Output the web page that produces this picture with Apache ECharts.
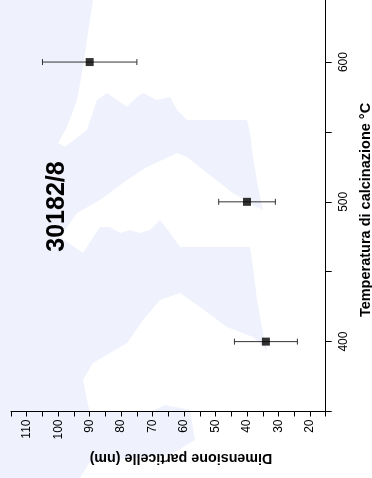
<!DOCTYPE html>
<html><head><meta charset="utf-8">
<script src="https://cdn.jsdelivr.net/npm/echarts@6/dist/echarts.min.js"></script>
<style>html,body{margin:0;padding:0;background:#fff}#c{width:372px;height:478px}</style>
</head><body><div id="c"></div>
<script>
// Data (chart is drawn rotated: size axis runs along the bottom, temperature up the right side)
const temperatures = [400, 500, 600];          // °C
const particleSizes = [34, 40, 90];            // nm
const sizeErrors = [10, 9, 15];                // ± nm
const sizeTickLabels = [110, 100, 90, 80, 70, 60, 50, 40, 30, 20];
const tempTickLabels = [400, 500, 600];
const sampleName = '30182/8';
const sizeTitle = 'Dimensione particelle (nm)';
const tempTitle = 'Temperatura di calcinazione °C';

const FONT = '"Liberation Sans", Arial, sans-serif';

// faint watermark silhouette in the background (decoration only)
const wmBlue = [
[0,0],[93,0],[88,33],[83,67],[77,100],[67,127],[58,143],[65,147],[87,130],[97,100],[107,93],[113,97],[127,107],[137,97],[143,93],[157,100],[170,97],[177,110],[187,120],[247,120],[250,133],[253,157],[258,187],[263,210],
[253,205],[233,193],[207,173],[187,157],[177,153],[147,167],[127,180],[100,200],[77,213],[60,237],
[83,253],[100,227],[110,227],[120,233],[130,230],[140,233],[150,230],[160,220],[170,233],[180,247],[250,247],[253,267],[257,300],[263,333],[267,350],
[253,337],[227,327],[200,307],[180,293],[160,300],[143,320],[127,343],[110,353],[93,363],[83,380],[88,405],[90,412],[150,412],[165,405],[190,410],[195,440],[170,455],[90,462],[80,478],[0,478]
];

const points = temperatures.map((t, i) => [particleSizes[i], t]);
const errData = temperatures.map((t, i) => [particleSizes[i] - sizeErrors[i], particleSizes[i] + sizeErrors[i], t]);

const chart = echarts.init(document.getElementById('c'), null, {renderer: 'canvas'});
chart.setOption({
  animation: false,
  backgroundColor: '#ffffff',
  textStyle: {fontFamily: FONT},
  grid: {left: 11, right: 46.3, top: 0, bottom: 66.5, containLabel: false},
  graphic: [
    {type: 'polygon', z: -10, silent: true, shape: {points: wmBlue}, style: {fill: '#eff1fc'}},
    {type: 'text', z: 10, x: 57, y: 206.5, rotation: Math.PI / 2,
      style: {text: sampleName, font: 'bold 25px ' + FONT, fill: '#000', align: 'center', verticalAlign: 'middle'}},
    {type: 'text', z: 10, x: 366, y: 210, rotation: Math.PI / 2,
      style: {text: tempTitle, font: 'bold 14.5px ' + FONT, fill: '#000', align: 'center', verticalAlign: 'middle'}},
    {type: 'text', z: 10, x: 181, y: 458, rotation: Math.PI,
      style: {text: sizeTitle, font: 'bold 14.3px ' + FONT, fill: '#000', align: 'center', verticalAlign: 'middle'}}
  ],
  xAxis: {
    type: 'value', inverse: true, position: 'bottom', min: 15, max: 115, interval: 5,
    splitLine: {show: false},
    axisLine: {show: true, lineStyle: {color: '#000', width: 1}},
    axisTick: {show: true, inside: false, length: 5, lineStyle: {color: '#000'}},
    axisLabel: {rotate: 90, margin: 8, fontSize: 12, color: '#000', fontFamily: FONT,
      formatter: v => sizeTickLabels.includes(v) ? String(v) : ''}
  },
  yAxis: {
    type: 'value', position: 'right', min: 350, max: 644.4, interval: 50,
    splitLine: {show: false},
    axisLine: {show: true, onZero: false, lineStyle: {color: '#000', width: 1}},
    axisTick: {show: true, inside: false, length: 6, lineStyle: {color: '#000'}},
    axisLabel: {rotate: 90, margin: 12, fontSize: 12, color: '#000', fontFamily: FONT, showMaxLabel: false,
      formatter: v => tempTickLabels.includes(v) ? String(v) : ''}
  },
  series: [
    {
      type: 'custom', z: 3,
      data: errData,
      encode: {x: [0, 1], y: 2},
      renderItem: (params, api) => {
        const lo = api.coord([api.value(0), api.value(2)]);
        const hi = api.coord([api.value(1), api.value(2)]);
        const c = 3;
        const st = {stroke: '#333', lineWidth: 1};
        return {type: 'group', children: [
          {type: 'line', shape: {x1: lo[0], y1: lo[1], x2: hi[0], y2: hi[1]}, style: st},
          {type: 'line', shape: {x1: lo[0], y1: lo[1] - c, x2: lo[0], y2: lo[1] + c}, style: st},
          {type: 'line', shape: {x1: hi[0], y1: hi[1] - c, x2: hi[0], y2: hi[1] + c}, style: st}
        ]};
      }
    },
    {
      type: 'scatter', z: 4, data: points, symbol: 'rect', symbolSize: 8,
      itemStyle: {color: '#000'}
    }
  ]
});
</script></body></html>
